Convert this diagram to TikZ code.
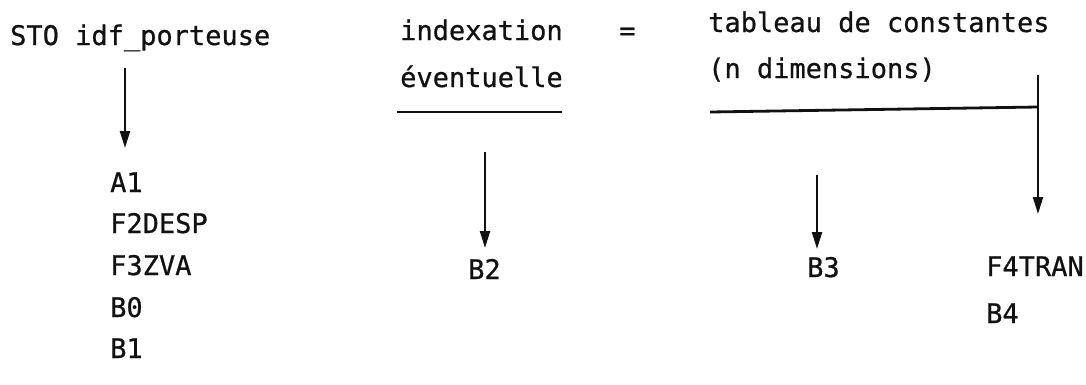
\documentclass[tikz,border=0pt]{standalone}
\usepackage{fontspec}
\setmainfont{DejaVu Sans Mono}[FakeBold=0.7]
\usepackage{tikz}
\usetikzlibrary{arrows.meta}
\usepackage{xcolor}
\definecolor{inkCol}{HTML}{111111}

\begin{document}
\begin{tikzpicture}[
    x=1pt, y=-1pt,
    word/.style={anchor=base west, inner sep=0pt, text=inkCol, font=\fontsize{27}{31}\selectfont},
    edge/.style={-{Triangle[width=10pt, length=17pt]}, line width=2.2pt, draw=inkCol},
    rule/.style={line width=2.8pt, draw=inkCol}
]
\useasboundingbox (0,0) rectangle (1086,384);

% =====================================================================
% HEADER LINE
% =====================================================================
\node[word] (STO) at (10,45) {STO idf\_porteuse};
\node[word] (IDX1) at (400,40) {indexation};
\node[word] (IDX2) at (400,87) {éventuelle};
\node[word] (EQ) at (619,40) {=};
\node[word] (TAB1) at (708,32) {tableau de constantes};
\node[word] (TAB2) at (708,78) {(n dimensions)};

% =====================================================================
% RESULTS
% =====================================================================
% 1. Porteuse (left)
\node[word] (A1) at (110,192) {A1};
\node[word] (F2) at (110,233) {F2DESP};
\node[word] (F3) at (110,275) {F3ZVA};
\node[word] (B0) at (110,317) {B0};
\node[word] (B1) at (110,358) {B1};

% 2. Indexation (middle)
\node[word] (B2) at (468,279) {B2};

% 3. Tableau (right)
\node[word] (B3) at (807,277) {B3};
\node[word] (F4) at (986,276) {F4TRAN};
\node[word] (B4) at (986,323) {B4};

% =====================================================================
% RULES & EDGES
% =====================================================================
\coordinate (u1a) at (397,112); \coordinate (u1b) at (562,112);
\coordinate (u2a) at (710,112); \coordinate (u2b) at (1038,107);
\coordinate (s1) at (125,68);  \coordinate (e1) at (125,148);
\coordinate (s2) at (485,152); \coordinate (e2) at (485,248);
\coordinate (s3) at (817,175); \coordinate (e3) at (817,249);
\coordinate (s4) at (1038,75); \coordinate (e4) at (1038,214);

\draw[rule] (u1a) -- (u1b);
\draw[rule] (u2a) -- (u2b);

\foreach \s/\e in {s1/e1, s2/e2, s3/e3, s4/e4}
    \draw[edge] (\s) -- (\e);

\end{tikzpicture}
\end{document}
